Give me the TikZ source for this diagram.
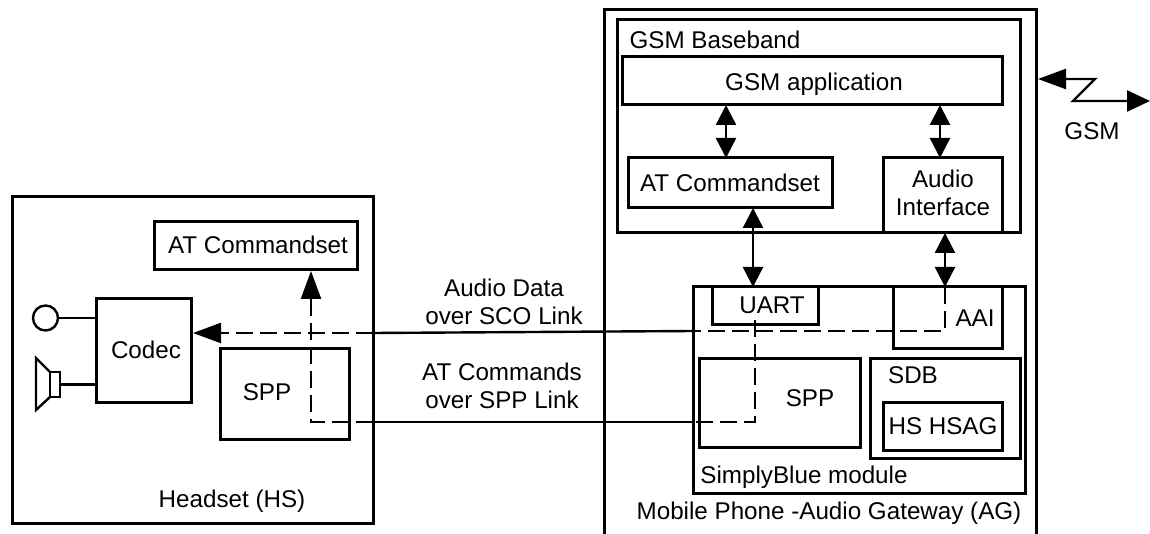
\documentclass[tikz,border=0pt]{standalone}
\usepackage{fontspec}
\setmainfont{Liberation Sans}
\usetikzlibrary{arrows.meta,fit}
\tikzset{
  x=1pt,y=-1pt,
  box/.style={draw=black,line width=3pt,inner sep=0pt,outer sep=0pt,fill=none},
  thinbox/.style={box,line width=3pt},
  lbl/.style={inner sep=0pt,outer sep=0pt,font=\fontsize{24.2}{27.5}\selectfont,align=center,text=black},
  link/.style={line width=2.4pt,draw=black},
  dlink/.style={line width=2.4pt,draw=black,dash pattern=on 17pt off 7pt},
  bigtip/.style={-{Triangle[length=28pt,width=20pt]}},
  dbl/.style={{Triangle[length=20pt,width=20pt]}-{Triangle[length=20pt,width=20pt]},line width=2.4pt},
}
\begin{document}
\begin{tikzpicture}
\useasboundingbox (0,0) rectangle (1150,534);
% Headset
\node[box,fit={(12,197)(373,523)}] (hs) {};
\node[thinbox,fit={(154,222)(357,270)}] (hsat) {};
\node[thinbox,fit={(96,299)(191,402)}] (codec) {};
\node[thinbox,fit={(220,348)(349,439)}] (hsspp) {};
\node[lbl] (hsattxt) at (258,245) {AT Commandset};
\node[lbl] (codectxt) at (146,350) {Codec};
\node[lbl] (hsspptxt) at (267,392) {SPP};
\node[lbl] (hstxt) at (232,501) {Headset (HS)};
% microphone and speaker
\node[draw,line width=2.4pt,circle,minimum size=25pt,inner sep=0pt,outer sep=0pt] (mic) at (45.5,318) {};
\draw[link] (mic.east) -- (mic.east -| codec.west);
\node[draw,line width=2.4pt,inner sep=0pt,outer sep=0pt,minimum width=10pt,minimum height=25pt] (spk) at (55,384.5) {};
\draw[line width=2.4pt,line join=miter] (spk.north west) -- (36,358) -- (36,410) -- (spk.south west);
\draw[link] (spk.east) -- (spk.east -| codec.west);
% Phone
\coordinate (phbl) at (604,534);
\coordinate (phbr) at (1036,534);
\draw[box] (phbl) -- (604,10) -- (1036,10) -- (phbr);
\node[thinbox,fit={(617,20)(1020,233)}] (base) {};
\node[thinbox,fit={(622,57)(1002,105)}] (app) {};
\node[thinbox,fit={(628,158)(832,208)}] (phat) {};
\node[thinbox,fit={(883,158)(1002,233)}] (audio) {};
\node[thinbox,fit={(693,287)(1025,493)}] (sb) {};
\node[thinbox,fit={(712,287)(818,324)}] (uart) {};
\node[thinbox,fit={(893,287)(1002,348)}] (aai) {};
\node[thinbox,fit={(699,358)(860,447)}] (mspp) {};
\node[thinbox,fit={(870,358)(1020,458)}] (sdb) {};
\node[thinbox,fit={(883,402)(1002,450)}] (hsag) {};
\node[lbl] (basetxt) at (715,40) {GSM Baseband};
\node[lbl] (apptxt) at (814,84) {GSM application};
\node[lbl] (phattxt) at (730,183) {AT Commandset};
\node[lbl] (audiotxt) at (943,193) {Audio\\Interface};
\node[lbl] (uarttxt) at (772,305) {UART};
\node[lbl] (aaitxt) at (975,318) {AAI};
\node[lbl] (mspptxt) at (810,398) {SPP};
\node[lbl] (sdbtxt) at (913,375) {SDB};
\node[lbl] (hsagtxt) at (943,426) {HS HSAG};
\node[lbl] (sbtxt) at (804,477) {SimplyBlue module};
\node[lbl] (phtxt) at (829,513) {Mobile Phone -Audio Gateway (AG)};
\node[lbl] (gsmtxt) at (1092,131) {GSM};
\node[lbl] (a1) at (504,302) {Audio Data\\over SCO Link};
\node[lbl] (a2) at (502,386) {AT Commands\\over SPP Link};
% internal arrows
\draw[dbl] (726,105) -- (726,158);
\draw[dbl] (940,105) -- (940,158);
\draw[dbl] (753,208) -- (753,287);
\draw[dbl] (945,233) -- (945,287);
% audio link
\coordinate (aturn) at (945,331);
\coordinate (sa) at (373,333);
\coordinate (sb1) at (693,331);
\coordinate (hsaudio) at (193,333);
\draw[link] (sa) -- (sb1);
\draw[dlink] (945,287) -- (aturn) -- (sb1);
\draw[dlink,bigtip] (sa) -- (hsaudio);
% SPP link
\coordinate (sturn) at (755,422);
\coordinate (sc) at (373,422);
\coordinate (sd) at (693,422);
\coordinate (hsturn) at (311,422);
\draw[link] (sc) -- (sd);
\draw[dlink] (755,320) -- (sturn) -- (sd);
\draw[dlink,bigtip] (sc) -- (hsturn) -- (311,271);
% GSM zigzag
\coordinate (gl) at (1038,79);
\coordinate (gr) at (1150,101);
\draw[line width=2.4pt,{Triangle[length=28pt,width=20pt]}-{Triangle[length=23pt,width=21pt]}] (gl) -- (1095,79) -- (1073,101) -- (gr);
\end{tikzpicture}
\end{document}
